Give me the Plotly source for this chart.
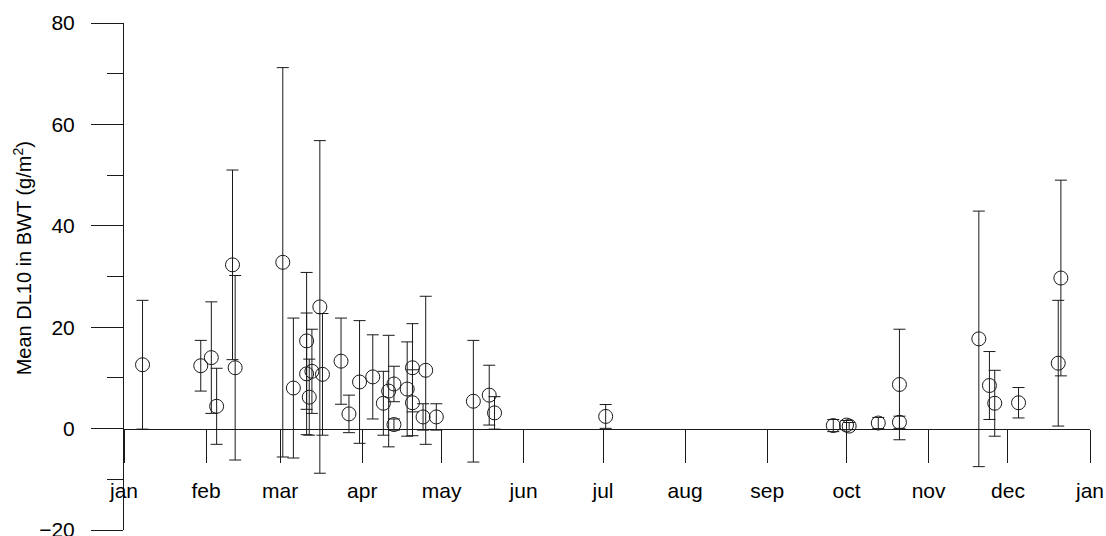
import plotly.graph_objects as go

# Sampling dates, mean DL10 and standard deviation per sampling
dates = [
    "2001-01-08", "2001-01-30", "2001-02-03", "2001-02-05", "2001-02-11", "2001-02-12",
    "2001-03-02", "2001-03-06", "2001-03-11", "2001-03-11", "2001-03-12", "2001-03-13",
    "2001-03-16", "2001-03-17", "2001-03-24", "2001-03-27", "2001-03-31", "2001-04-05",
    "2001-04-09", "2001-04-11", "2001-04-13", "2001-04-13", "2001-04-18", "2001-04-20",
    "2001-04-20", "2001-04-24", "2001-04-25", "2001-04-29", "2001-05-13", "2001-05-19",
    "2001-05-21", "2001-07-02", "2001-09-26", "2001-10-01", "2001-10-02", "2001-10-13",
    "2001-10-21", "2001-10-21", "2001-11-20", "2001-11-24", "2001-11-26", "2001-12-05",
    "2001-12-20", "2001-12-21",
]
mean_dl10 = [
    12.6, 12.4, 14.0, 4.4, 32.3, 12.0,
    32.8, 8.0, 10.8, 17.3, 6.2, 11.3,
    24.0, 10.7, 13.3, 2.9, 9.2, 10.2,
    5.0, 7.4, 8.8, 0.8, 7.8, 12.0,
    5.1, 2.3, 11.5, 2.3, 5.4, 6.6,
    3.1, 2.4, 0.6, 0.7, 0.5, 1.1,
    8.7, 1.25, 17.7, 8.5, 5.0, 5.1,
    12.9, 29.7,
]
sd_dl10 = [
    12.7, 5.0, 11.0, 7.5, 18.7, 18.2,
    38.4, 13.8, 12.0, 13.5, 7.5, 8.3,
    32.8, 12.0, 8.5, 3.7, 12.1, 8.3,
    6.3, 11.0, 3.5, 1.1, 9.3, 8.7,
    6.5, 2.6, 14.6, 2.6, 12.0, 5.9,
    3.2, 2.35, 1.2, 0.9, 0.7, 1.1,
    10.9, 1.2, 25.2, 6.7, 6.5, 3.0,
    12.4, 19.3,
]

month_starts = [
    "2001-01-01", "2001-02-01", "2001-03-01", "2001-04-01", "2001-05-01", "2001-06-01",
    "2001-07-01", "2001-08-01", "2001-09-01", "2001-10-01", "2001-11-01", "2001-12-01",
    "2002-01-01",
]
month_labels = ["jan", "feb", "mar", "apr", "may", "jun", "jul", "aug", "sep", "oct",
                "nov", "dec", "jan"]

FONT = "Liberation Sans, Arial, sans-serif"
INK = "#1a1a1a"

fig = go.Figure()
fig.add_trace(go.Scatter(
    x=dates,
    y=mean_dl10,
    mode="markers",
    marker=dict(symbol="circle-open", size=14, color=INK, line=dict(width=1, color=INK)),
    error_y=dict(type="data", array=sd_dl10, visible=True, color=INK, thickness=1, width=6),
    showlegend=False,
))

fig.update_layout(
    width=1106,
    height=536,
    margin=dict(l=124, r=16, t=23, b=6),
    paper_bgcolor="white",
    plot_bgcolor="white",
    font=dict(family=FONT, size=21, color="black"),
    xaxis=dict(
        type="date",
        range=["2001-01-01", "2002-01-01"],
        anchor="free",
        position=0.2,
        showline=True,
        linecolor=INK,
        linewidth=1,
        showgrid=False,
        zeroline=False,
        ticks="outside",
        ticklen=33,
        tickwidth=1,
        tickcolor=INK,
        tickvals=month_starts,
        ticktext=month_labels,
        ticklabelstandoff=10,
        tickfont=dict(size=21, family=FONT, color="black"),
        automargin=False,
    ),
    yaxis=dict(
        range=[-20, 80],
        showline=True,
        linecolor=INK,
        linewidth=1,
        showgrid=False,
        zeroline=False,
        ticks="outside",
        ticklen=32,
        tickwidth=1,
        tickcolor=INK,
        tick0=0,
        dtick=20,
        minor=dict(ticks="outside", ticklen=16, tickwidth=1, tickcolor=INK, dtick=10,
                   showgrid=False),
        ticklabelstandoff=12,
        ticklabeloverflow="allow",
        tickfont=dict(size=21, family=FONT, color="black"),
        automargin=False,
    ),
    annotations=[dict(
        text="Mean DL10 in BWT (g/m<sup>2</sup>)",
        textangle=-90,
        xref="paper", yref="paper",
        x=-0.105, y=0.535,
        xanchor="center", yanchor="middle",
        showarrow=False,
        font=dict(size=20, family=FONT, color="black"),
    )],
)

fig.write_html("out.html")
